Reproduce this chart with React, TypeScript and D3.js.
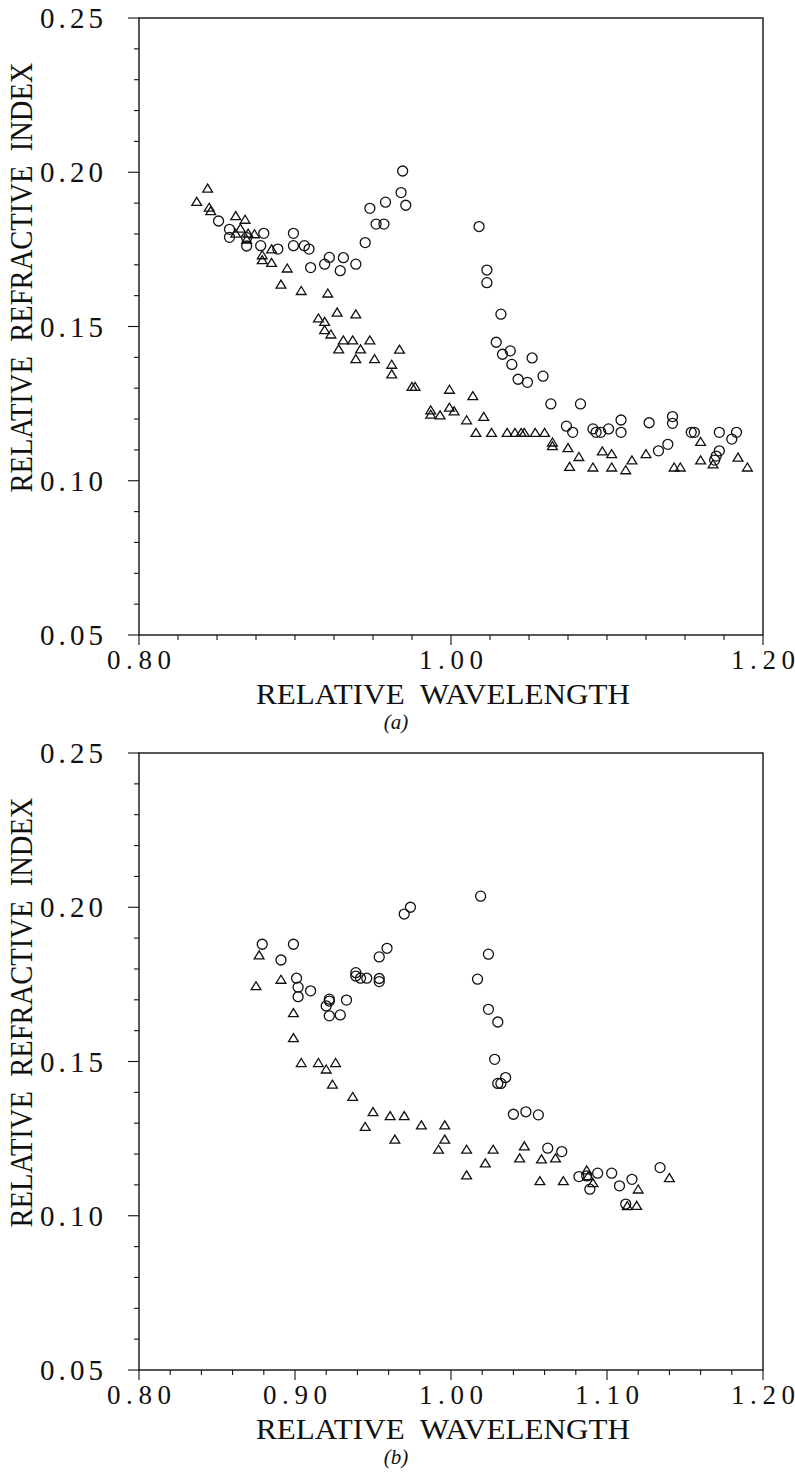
import React from 'react';
import * as d3 from 'd3';

// ---- data (relative wavelength, relative refractive index) ----
const aTriangles: [number, number][] = [
  [0.837, 0.1905], [0.844, 0.1948], [0.845, 0.1886], [0.846, 0.1875], [0.862, 0.1859],
  [0.868, 0.1847], [0.865, 0.1818], [0.862, 0.1802], [0.870, 0.1802], [0.874, 0.1800],
  [0.869, 0.1783], [0.885, 0.1751], [0.879, 0.1732], [0.879, 0.1716], [0.885, 0.1707],
  [0.895, 0.1689], [0.891, 0.1637], [0.904, 0.1616], [0.921, 0.1608], [0.915, 0.1527],
  [0.919, 0.1516], [0.919, 0.1489], [0.923, 0.1475], [0.927, 0.1546], [0.939, 0.1540],
  [0.931, 0.1456], [0.937, 0.1456], [0.928, 0.1427], [0.942, 0.1427], [0.939, 0.1395],
  [0.948, 0.1456], [0.951, 0.1395], [0.967, 0.1426], [0.962, 0.1377], [0.962, 0.1346],
  [0.975, 0.1305], [0.977, 0.1305], [0.999, 0.1296], [1.014, 0.1275], [0.987, 0.1229],
  [0.987, 0.1215], [0.993, 0.1213], [0.999, 0.1238], [1.002, 0.1226], [1.010, 0.1197],
  [1.021, 0.1208], [1.016, 0.1156], [1.026, 0.1156], [1.036, 0.1156], [1.041, 0.1156],
  [1.045, 0.1156], [1.047, 0.1156], [1.054, 0.1156], [1.060, 0.1156], [1.065, 0.1125],
  [1.065, 0.1113], [1.075, 0.1107], [1.082, 0.1078], [1.076, 0.1046], [1.091, 0.1044],
  [1.097, 0.1096], [1.103, 0.1087], [1.103, 0.1044], [1.112, 0.1035], [1.116, 0.1067],
  [1.125, 0.1087], [1.143, 0.1044], [1.147, 0.1044], [1.160, 0.1127], [1.160, 0.1067],
  [1.168, 0.1054], [1.184, 0.1076], [1.190, 0.1044],
];

const aCircles: [number, number][] = [
  [0.851, 0.1842], [0.858, 0.1815], [0.858, 0.1789], [0.869, 0.1788], [0.869, 0.1761],
  [0.880, 0.1802], [0.878, 0.1762], [0.889, 0.1751], [0.899, 0.1802], [0.899, 0.1762],
  [0.906, 0.1762], [0.909, 0.1751], [0.910, 0.1691], [0.919, 0.1702], [0.922, 0.1724],
  [0.931, 0.1723], [0.929, 0.1681], [0.939, 0.1702], [0.945, 0.1772], [0.948, 0.1883],
  [0.952, 0.1832], [0.957, 0.1832], [0.958, 0.1903], [0.968, 0.1934], [0.969, 0.2004],
  [0.971, 0.1893], [1.018, 0.1824], [1.023, 0.1683], [1.023, 0.1642], [1.032, 0.1540],
  [1.029, 0.1449], [1.033, 0.1410], [1.038, 0.1421], [1.039, 0.1377], [1.052, 0.1398],
  [1.043, 0.1329], [1.049, 0.1319], [1.059, 0.1339], [1.064, 0.1249], [1.083, 0.1249],
  [1.074, 0.1177], [1.078, 0.1157], [1.091, 0.1168], [1.093, 0.1157], [1.096, 0.1157],
  [1.101, 0.1168], [1.109, 0.1197], [1.109, 0.1157], [1.127, 0.1188], [1.142, 0.1208],
  [1.142, 0.1186], [1.133, 0.1097], [1.139, 0.1118], [1.154, 0.1157], [1.156, 0.1157],
  [1.172, 0.1157], [1.183, 0.1157], [1.180, 0.1135], [1.172, 0.1097], [1.170, 0.1080],
  [1.169, 0.1067],
];

const bTriangles: [number, number][] = [
  [0.877, 0.1845], [0.875, 0.1745], [0.891, 0.1766], [0.899, 0.1658], [0.899, 0.1577],
  [0.904, 0.1496], [0.915, 0.1496], [0.920, 0.1475], [0.926, 0.1496], [0.924, 0.1426],
  [0.937, 0.1386], [0.950, 0.1337], [0.945, 0.1289], [0.961, 0.1324], [0.970, 0.1324],
  [0.981, 0.1294], [0.996, 0.1294], [0.964, 0.1248], [0.996, 0.1248], [0.992, 0.1215],
  [1.010, 0.1215], [1.027, 0.1215], [1.047, 0.1226], [1.010, 0.1132], [1.022, 0.1171],
  [1.044, 0.1187], [1.058, 0.1184], [1.057, 0.1113], [1.067, 0.1187], [1.072, 0.1113],
  [1.087, 0.1148], [1.088, 0.1129], [1.091, 0.1107], [1.120, 0.1086], [1.140, 0.1123],
  [1.113, 0.1032], [1.119, 0.1033],
];

const bCircles: [number, number][] = [
  [0.879, 0.1880], [0.899, 0.1880], [0.891, 0.1829], [0.901, 0.1770], [0.902, 0.1741],
  [0.902, 0.1710], [0.910, 0.1729], [0.922, 0.1702], [0.922, 0.1696], [0.920, 0.1680],
  [0.922, 0.1648], [0.929, 0.1651], [0.933, 0.1699], [0.939, 0.1788], [0.939, 0.1777],
  [0.942, 0.1770], [0.946, 0.1770], [0.954, 0.1839], [0.959, 0.1867], [0.954, 0.1769],
  [0.954, 0.1759], [0.970, 0.1978], [0.974, 0.2000], [1.019, 0.2036], [1.024, 0.1848],
  [1.017, 0.1767], [1.024, 0.1669], [1.030, 0.1628], [1.028, 0.1507], [1.035, 0.1448],
  [1.030, 0.1429], [1.032, 0.1429], [1.040, 0.1329], [1.048, 0.1337], [1.056, 0.1327],
  [1.062, 0.1219], [1.071, 0.1208], [1.082, 0.1127], [1.087, 0.1129], [1.094, 0.1138],
  [1.089, 0.1086], [1.103, 0.1138], [1.108, 0.1097], [1.116, 0.1118], [1.134, 0.1156],
  [1.112, 0.1038],
];

const xTickLabelsA = [0.8, 1.0, 1.2];
const xTickLabelsB = [0.8, 0.9, 1.0, 1.1, 1.2];
const yTickLabels = [0.05, 0.1, 0.15, 0.2, 0.25];
const xTitle = 'RELATIVE  WAVELENGTH';
const yTitle = 'RELATIVE  REFRACTIVE  INDEX';

const FONT = 'Liberation Serif, Times New Roman, Times, serif';
const INK = '#111';

type PanelProps = {
  top: number;
  bottom: number;
  tri: [number, number][];
  circ: [number, number][];
  xLabels: number[];
  minorStep: number;
  letter: string;
};

const LEFT = 139;
const RIGHT = 763;

function Panel({ top, bottom, tri, circ, xLabels, minorStep, letter }: PanelProps) {
  const x = d3.scaleLinear().domain([0.8, 1.2]).range([LEFT, RIGHT]);
  const y = d3.scaleLinear().domain([0.05, 0.25]).range([bottom, top]);
  const xMinor = d3.range(0, Math.round(0.4 / minorStep) + 1).map((i) => 0.8 + i * minorStep);
  const yMinor = d3.range(0, 21).map((i) => 0.05 + i * 0.01);
  const isLabel = (arr: number[], v: number) => arr.some((a) => Math.abs(a - v) < 1e-6);
  const triPath = d3.line()([[0, -4.2], [-4.9, 3.8], [4.9, 3.8], [0, -4.2]]) + 'Z';
  const midY = (top + bottom) / 2;
  return (
    <g>
      <rect x={LEFT} y={top} width={RIGHT - LEFT} height={bottom - top} fill="none" stroke={INK} strokeWidth={1.4} />
      {xMinor.map((v, i) => {
        const major = isLabel(xLabels, v);
        return (
          <line key={'xt' + i} x1={x(v)} x2={x(v)} y1={bottom} y2={bottom + (major ? 10 : 5)} stroke={INK} strokeWidth={1.1} />
        );
      })}
      {yMinor.map((v, i) => {
        const major = isLabel(yTickLabels, v);
        return (
          <line key={'yt' + i} x1={LEFT - (major ? 11 : 5)} x2={LEFT} y1={y(v)} y2={y(v)} stroke={INK} strokeWidth={1.1} />
        );
      })}
      {yTickLabels.map((v) => (
        <text key={'yl' + v} x={103} y={y(v)} textAnchor="end" dominantBaseline="central"
          fontFamily={FONT} fontSize={29} fill={INK} textLength={63} lengthAdjust="spacing">
          {d3.format('.2f')(v)}
        </text>
      ))}
      {xLabels.map((v) => (
        <text key={'xl' + v} x={x(v)} y={bottom + 25} textAnchor="middle" dominantBaseline="central"
          fontFamily={FONT} fontSize={27} fill={INK} textLength={64} lengthAdjust="spacing">
          {d3.format('.2f')(v)}
        </text>
      ))}
      <text x={443} y={bottom + 59} textAnchor="middle" dominantBaseline="central" fontFamily={FONT}
        fontSize={29} fill={INK} textLength={374} lengthAdjust="spacingAndGlyphs" style={{ whiteSpace: 'pre' }}>
        {xTitle}
      </text>
      <text transform={`translate(21, ${midY - 49}) rotate(-90)`} textAnchor="middle" dominantBaseline="central"
        fontFamily={FONT} fontSize={32} fill={INK} textLength={430} lengthAdjust="spacingAndGlyphs" style={{ whiteSpace: 'pre' }}>
        {yTitle}
      </text>
      <text x={396} y={bottom + 87} textAnchor="middle" dominantBaseline="central" fontFamily={FONT}
        fontSize={21} fontStyle="italic" fill={INK}>
        {`(${letter})`}
      </text>
      {circ.map((d, i) => (
        <circle key={'c' + i} cx={x(d[0])} cy={y(d[1])} r={5} fill="none" stroke={INK} strokeWidth={1.3} />
      ))}
      {tri.map((d, i) => (
        <path key={'t' + i} d={triPath} transform={`translate(${x(d[0])},${y(d[1])})`} fill="none" stroke={INK} strokeWidth={1.3} />
      ))}
    </g>
  );
}

export default function App() {
  return (
    <svg width={795} height={1473} viewBox="0 0 795 1473"
      style={{ position: 'absolute', left: 0, top: 0, background: '#fff' }}>
      <rect x={0} y={0} width={795} height={1473} fill="#fff" />
      <Panel top={18} bottom={635} tri={aTriangles} circ={aCircles} xLabels={xTickLabelsA} minorStep={0.025} letter="a" />
      <Panel top={753} bottom={1370} tri={bTriangles} circ={bCircles} xLabels={xTickLabelsB} minorStep={0.02} letter="b" />
    </svg>
  );
}
